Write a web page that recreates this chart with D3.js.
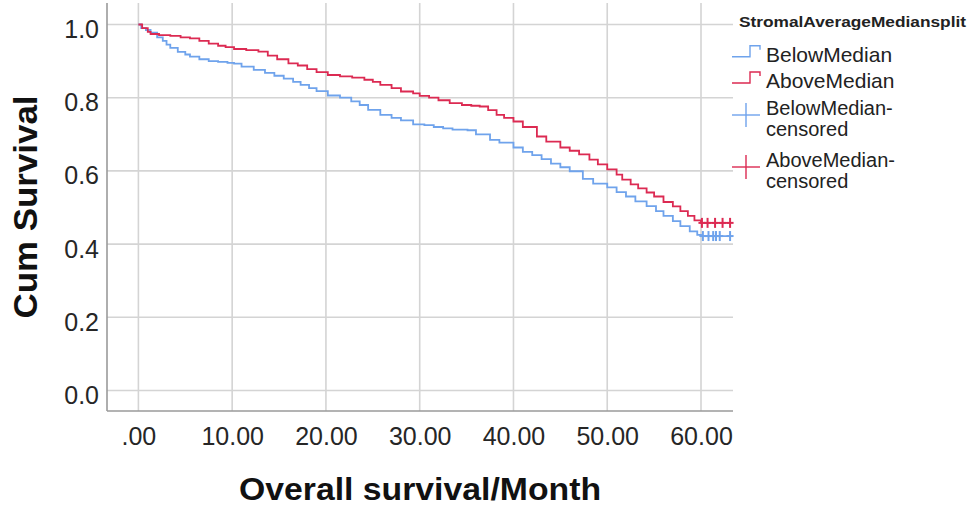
<!DOCTYPE html>
<html>
<head>
<meta charset="utf-8">
<script src="https://cdn.jsdelivr.net/npm/d3@7"></script>
<style>
    body { margin: 0; background: #fff; }
    svg { display: block; font-family: "Liberation Sans", Arial, sans-serif; }
</style>
</head>
<body>
<div id="chart"></div>
<script>

// ---- data ----
let xTicks = [0, 10, 20, 30, 40, 50, 60];
let yTicks = [0, 0.2, 0.4, 0.6, 0.8, 1.0];

let belowTime = [0, 0.3, 0.8, 1.3, 2.0, 2.6, 3.0, 3.4, 4.2, 5.0, 5.5, 6.5, 7.5, 8.5, 9.5, 10.2, 11.0, 12.3,
    13.5, 14.5, 15.5, 16.5, 17.3, 18.2, 19.0, 20.2, 21.5, 22.7, 23.6, 24.5, 25.8, 27.0, 28.0, 29.3, 30.5,
    31.5, 32.5, 33.5, 35.1, 36.0, 37.5, 38.5, 40.0, 41.0, 42.0, 43.0, 44.0, 45.0, 46.0, 47.4, 48.5, 50.0,
    51.0, 52.0, 53.0, 54.2, 55.2, 56.0, 57.0, 57.8, 58.8, 59.6, 60.0, 63.2];
let belowSurv = [1.0, 0.99, 0.985, 0.978, 0.965, 0.955, 0.945, 0.936, 0.925, 0.918, 0.912, 0.905, 0.900, 0.898,
    0.895, 0.893, 0.885, 0.876, 0.868, 0.860, 0.852, 0.843, 0.835, 0.826, 0.818, 0.806, 0.800, 0.790, 0.780,
    0.767, 0.753, 0.745, 0.738, 0.727, 0.725, 0.720, 0.716, 0.713, 0.711, 0.700, 0.685, 0.677, 0.664, 0.652,
    0.643, 0.632, 0.620, 0.610, 0.599, 0.578, 0.565, 0.555, 0.542, 0.530, 0.517, 0.504, 0.490, 0.477, 0.463,
    0.449, 0.435, 0.425, 0.422, 0.422];

let aboveTime = [0, 0.4, 1.0, 1.3, 2.2, 3.4, 4.5, 5.5, 6.5, 7.5, 8.5, 9.3, 10.2, 11.5, 12.8, 13.8, 14.8, 16.0,
    17.0, 18.0, 19.0, 20.2, 21.5, 22.8, 24.1, 25.0, 25.8, 27.0, 28.0, 29.3, 30.0, 31.0, 32.0, 33.2, 34.5,
    35.5, 36.4, 37.3, 38.2, 39.0, 40.0, 41.0, 42.5, 43.5, 45.0, 46.0, 47.0, 48.1, 49.0, 50.0, 51.0, 51.6,
    52.5, 53.3, 54.2, 55.0, 56.0, 57.0, 57.8, 58.6, 59.3, 60.0, 63.2];
let aboveSurv = [1.0, 0.99, 0.98, 0.974, 0.971, 0.969, 0.965, 0.962, 0.955, 0.948, 0.942, 0.938, 0.933, 0.930,
    0.926, 0.915, 0.905, 0.894, 0.888, 0.878, 0.870, 0.862, 0.858, 0.855, 0.849, 0.843, 0.835, 0.826, 0.817,
    0.812, 0.805, 0.800, 0.793, 0.785, 0.780, 0.778, 0.776, 0.766, 0.753, 0.745, 0.735, 0.720, 0.694, 0.680,
    0.664, 0.655, 0.645, 0.631, 0.618, 0.604, 0.590, 0.576, 0.563, 0.552, 0.541, 0.530, 0.515, 0.503, 0.490,
    0.477, 0.465, 0.458, 0.458];

let belowCensored = [60.2, 60.8, 61.3, 61.6, 62.0, 63.1];
let aboveCensored = [60.1, 60.7, 61.5, 62.3, 63.1];

let groupNames = ["BelowMedian", "AboveMedian"];
let colors = ["#6fa3ec", "#dc2a52"];

// ---- layout ----
let width = 975, height = 508;
let plot = {left: 107, right: 733, top: 3, bottom: 411};

let svg = d3.select("#chart").append("svg")
    .attr("width", width)
    .attr("height", height);

let x = d3.scaleLinear()
    .domain([0, 60])
    .range([138.4, 701]);

let y = d3.scaleLinear()
    .domain([0, 1])
    .range([390.5, 24.5]);

// grid lines
svg.append("g")
    .attr("class", "grid")
    .selectAll("line.v")
    .data(xTicks)
    .enter().append("line")
    .attr("x1", d => x(d)).attr("x2", d => x(d))
    .attr("y1", plot.top).attr("y2", plot.bottom)
    .attr("stroke", "#d4d4d4")
    .attr("stroke-width", 1.6);

svg.append("g")
    .attr("class", "grid")
    .selectAll("line.h")
    .data(yTicks)
    .enter().append("line")
    .attr("x1", plot.left).attr("x2", plot.right)
    .attr("y1", d => y(d)).attr("y2", d => y(d))
    .attr("stroke", "#d4d4d4")
    .attr("stroke-width", 1.6);

// axes
let xAxis = d3.axisBottom(x)
    .tickValues(xTicks)
    .tickSize(0)
    .tickPadding(16)
    .tickFormat(d => d === 0 ? ".00" : d.toFixed(2));

let yAxis = d3.axisLeft(y)
    .tickValues(yTicks)
    .tickSize(0)
    .tickPadding(8)
    .tickFormat(d => d.toFixed(1));

let xAxisGroup = svg.append("g")
    .attr("class", "x-axis axis")
    .attr("transform", "translate(0," + plot.bottom + ")")
    .call(xAxis);

let yAxisGroup = svg.append("g")
    .attr("class", "y-axis axis")
    .attr("transform", "translate(" + plot.left + ",0)")
    .call(yAxis);

xAxisGroup.select(".domain").remove();
yAxisGroup.select(".domain").remove();

svg.selectAll(".axis text")
    .attr("font-family", "'Liberation Sans', Arial, sans-serif")
    .attr("font-size", 25)
    .attr("fill", "#262626");

yAxisGroup.selectAll("text").attr("dy", "0.52em");
xAxisGroup.selectAll("text").attr("dy", "0.71em");

svg.append("line")
    .attr("x1", plot.left).attr("x2", plot.left)
    .attr("y1", plot.top).attr("y2", plot.bottom)
    .attr("stroke", "#9a9a9a").attr("stroke-width", 1.6);

svg.append("line")
    .attr("x1", plot.left).attr("x2", plot.right)
    .attr("y1", plot.bottom).attr("y2", plot.bottom)
    .attr("stroke", "#9a9a9a").attr("stroke-width", 1.6);

// survival curves
let line = d3.line()
    .x(d => x(d[0]))
    .y(d => y(d[1]))
    .curve(d3.curveStepAfter);

let series = [
    {time: belowTime, surv: belowSurv, censored: belowCensored},
    {time: aboveTime, surv: aboveSurv, censored: aboveCensored}
];

series.forEach((s, i) => {
    let pts = s.time.map((t, j) => [t, s.surv[j]]);

    svg.append("path")
        .datum(pts)
        .attr("fill", "none")
        .attr("stroke", colors[i])
        .attr("stroke-width", 1.8)
        .attr("d", line);

    // censor marks sit on the curve at the last level
    let lastSurv = s.surv[s.surv.length - 1];
    let marks = svg.append("g").attr("class", "censor");
    s.censored.forEach(c => {
        marks.append("line")
            .attr("x1", x(c)).attr("x2", x(c))
            .attr("y1", y(lastSurv) - 5).attr("y2", y(lastSurv) + 5)
            .attr("stroke", colors[i]).attr("stroke-width", 2);
        marks.append("line")
            .attr("x1", x(c) - 3.5).attr("x2", x(c) + 3.5)
            .attr("y1", y(lastSurv)).attr("y2", y(lastSurv))
            .attr("stroke", colors[i]).attr("stroke-width", 2);
    });
});

// axis titles
svg.append("text")
    .attr("x", 420)
    .attr("y", 500)
    .attr("text-anchor", "middle")
    .attr("font-size", 31)
    .attr("font-weight", "bold")
    .attr("fill", "#111")
    .attr("textLength", 362)
    .attr("lengthAdjust", "spacingAndGlyphs")
    .text("Overall survival/Month");

svg.append("text")
    .attr("transform", "translate(37,207) rotate(-90)")
    .attr("text-anchor", "middle")
    .attr("font-size", 33)
    .attr("font-weight", "bold")
    .attr("fill", "#111")
    .attr("textLength", 223)
    .attr("lengthAdjust", "spacingAndGlyphs")
    .text("Cum Survival");

// legend
let legend = svg.append("g").attr("class", "legend");

legend.append("text")
    .attr("x", 739)
    .attr("y", 27)
    .attr("font-size", 14)
    .attr("font-weight", "bold")
    .attr("fill", "#222")
    .attr("textLength", 227)
    .attr("lengthAdjust", "spacingAndGlyphs")
    .text("StromalAverageMediansplit");

let stepRows = [{y: 61.7, name: groupNames[0], color: colors[0]},
                {y: 88, name: groupNames[1], color: colors[1]}];

stepRows.forEach(r => {
    legend.append("path")
        .attr("d", `M732,${r.y - 5} H750 V${r.y - 16} H760 V${r.y - 12}`)
        .attr("fill", "none")
        .attr("stroke", r.color)
        .attr("stroke-width", 1.4);
    legend.append("text")
        .attr("x", 766)
        .attr("y", r.y)
        .attr("font-size", 21)
        .attr("fill", "#222")
        .text(r.name);
});

let censorRows = [{y: 115, cy: 115, name: groupNames[0], color: colors[0]},
                  {y: 166.7, cy: 167, name: groupNames[1], color: colors[1]}];

censorRows.forEach(r => {
    legend.append("line")
        .attr("x1", 732).attr("x2", 760)
        .attr("y1", r.cy).attr("y2", r.cy)
        .attr("stroke", r.color).attr("stroke-width", 1.4);
    legend.append("line")
        .attr("x1", 746).attr("x2", 746)
        .attr("y1", r.cy - 12).attr("y2", r.cy + 12)
        .attr("stroke", r.color).attr("stroke-width", 1.4);
    legend.append("text")
        .attr("x", 766)
        .attr("y", r.y)
        .attr("font-size", 20)
        .attr("fill", "#222")
        .text(r.name + "-");
    legend.append("text")
        .attr("x", 766)
        .attr("y", r.y + 21)
        .attr("font-size", 20)
        .attr("fill", "#222")
        .text("censored");
});

</script>
</body>
</html>
